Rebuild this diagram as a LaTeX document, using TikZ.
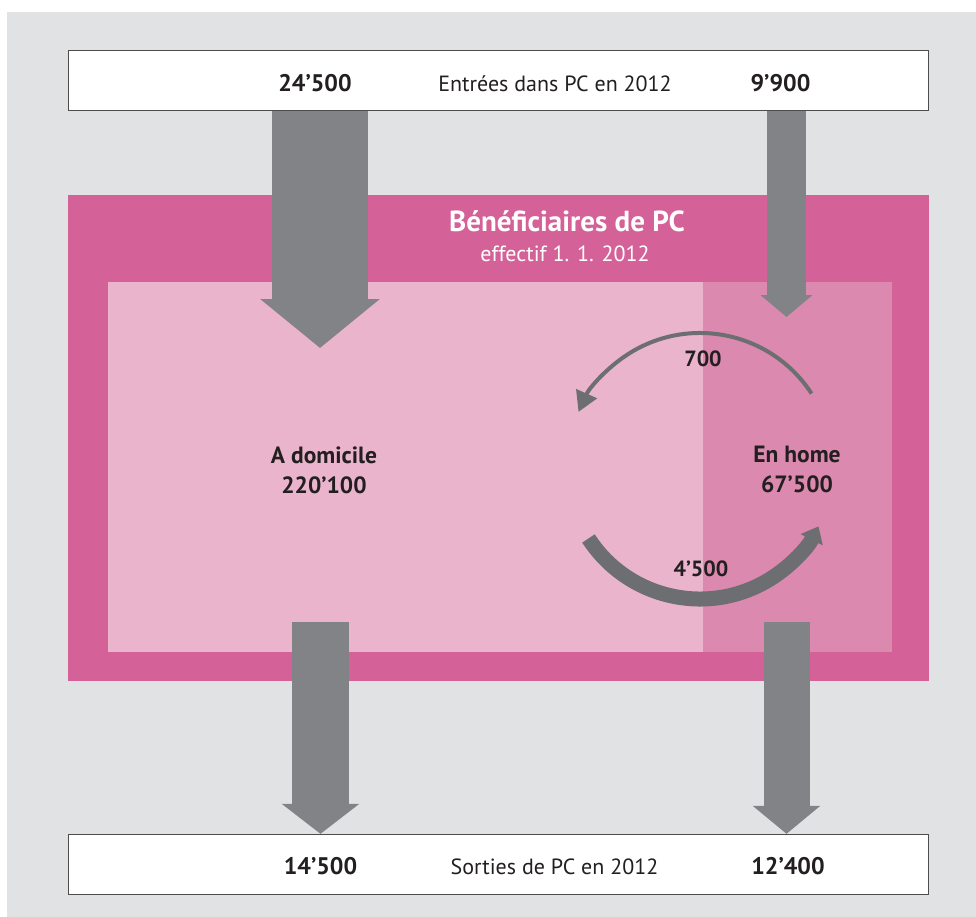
\documentclass[tikz,border=0pt]{standalone}
\usepackage{xcolor}
\usepackage{fontspec}
\setmainfont{PT Sans}
\usepackage{tikz}
\usetikzlibrary{arrows.meta, positioning, calc}

\definecolor{bggrey}{HTML}{E1E2E4}
\definecolor{pcpink}{HTML}{D46298}
\definecolor{domlight}{HTML}{EAB4CC}
\definecolor{homedark}{HTML}{DB89AF}
\definecolor{flowgrey}{HTML}{828387}
\definecolor{swapgrey}{HTML}{6D6E71}
\definecolor{txt}{HTML}{231F20}

\begin{document}
\begin{tikzpicture}
	[
		x=1pt, y=-1pt,
		yearbox/.style={draw=black!70, line width=1.3pt, fill=white, minimum width=860pt, minimum height=60pt, inner sep=0pt},
		area/.style={inner sep=0pt, minimum height=370pt},
		count/.style={anchor=base, text=txt, font=\fontsize{24}{27}\selectfont\bfseries},
		caption/.style={anchor=base, text=txt, font=\fontsize{22}{26}\selectfont},
		group/.style={align=center, text=txt, font=\fontsize{23.5}{30}\selectfont\bfseries},
		swaplabel/.style={anchor=base, text=txt, font=\fontsize{22}{25}\selectfont\bfseries},
		flow/.style={draw=flowgrey}
	]
	\useasboundingbox (0,0) rectangle (976,917);
	\fill[white] (0,0) rectangle (976,917);
	\fill[bggrey] (7,12) rectangle (976,917);

	% boxes
	\node[yearbox] (entries) at (498.5,80.5) {};
	\node[yearbox] (exits) at (498.5,864.5) {};
	\node[fill=pcpink, inner sep=0pt, minimum width=861pt, minimum height=486pt] (pc) at (498.5,438) {};
	\node[area, fill=domlight, minimum width=594.5pt] (domarea) at (405.25,466.7) {};
	\node[area, fill=homedark, minimum width=189.5pt, right=0pt of domarea] (homearea) {};

	% texts
	\node[count] (in dom) at (315,92) {24’500};
	\node[caption] (in text) at (555,92) {Entrées dans PC en 2012};
	\node[count] (in home) at (780.5,92) {9’900};
	\node[count] (out dom) at (320.5,874) {14’500};
	\node[caption] (out text) at (554.5,874) {Sorties de PC en 2012};
	\node[count] (out home) at (788,874) {12’400};
	\node[anchor=base, text=white, font=\fontsize{29}{32}\selectfont\bfseries] (title) at (567,231.5) {Bénéficiaires de PC};
	\node[anchor=base, text=white, font=\fontsize{22}{25}\selectfont] (stock) at (565,261) {effectif 1. 1. 2012};

	% flows in and out
	\coordinate (dom tip) at (320,348);
	\coordinate (home tip) at (786.5,317);
	\coordinate (dom exit) at (320.5,622);
	\coordinate (home exit) at (786.5,622);
	\draw[flow, line width=96pt, -{Triangle[width=117pt, length=49pt]}] (entries.south -| dom tip) -- (dom tip);
	\draw[flow, line width=39pt, -{Triangle[width=51pt, length=22pt]}] (entries.south -| home tip) -- (home tip);
	\draw[flow, line width=57pt, -{Triangle[width=76pt, length=30pt]}] (dom exit) -- (exits.north -| dom exit);
	\draw[flow, line width=46pt, -{Triangle[width=66pt, length=28pt]}] (home exit) -- (exits.north -| home exit);

	% moves between home and domicile
	\coordinate (swap) at (700,466);
	\draw[swapgrey, line width=4pt, -{Triangle[width=22pt, length=20pt]}] ($(swap)+(-33:133)$) arc[start angle=-33, end angle=-156, radius=133];
	\draw[swapgrey, line width=15pt, -{Triangle[width=24pt, length=15pt]}] ($(swap)+(147:133)$) arc[start angle=147, end angle=27, radius=133];

	\node[group] (dom) at (324,470) {A domicile\\220’100};
	\node[group] (home) at (797,469) {En home\\67’500};
	\node[swaplabel] (to dom) at (703,366.5) {700};
	\node[swaplabel] (to home) at (701,576.5) {4’500};
\end{tikzpicture}
\end{document}
